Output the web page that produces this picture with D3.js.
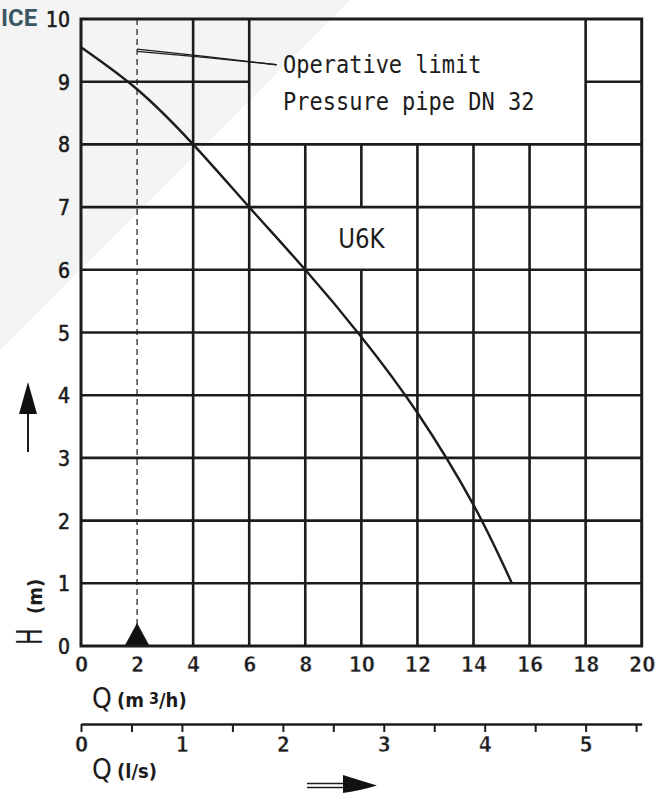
<!DOCTYPE html>
<html>
<head>
<meta charset="utf-8">
<script src="https://cdn.jsdelivr.net/npm/d3@7"></script>
<style>
  html, body { margin: 0; padding: 0; background: #fff; }
  svg { display: block; }
</style>
</head>
<body>
<div id="chart"></div>
<script>
// pump curve U6K, H (m) over Q (m3/h)
const flowQ = [0, 2, 4, 6, 8, 10, 12, 14, 15.37]
const headH = [9.55, 8.88, 8.0, 7.0, 6.0, 4.93, 3.72, 2.25, 1.0]
const qTicks = [0, 2, 4, 6, 8, 10, 12, 14, 16, 18, 20]
const hTicks = [0, 1, 2, 3, 4, 5, 6, 7, 8, 9, 10]
const lsTicks = [0, 0.5, 1, 1.5, 2, 2.5, 3, 3.5, 4, 4.5, 5, 5.5]
const limitQ = 2
const limitLeader = [[2, 9.52], [4.5, 9.4], [6.98, 9.27]]
const noteLines = ['Operative limit', 'Pressure pipe DN 32']
const curveName = 'U6K'

const W = 660, H = 794
const ink = '#1c1c1c'

const svg = d3.select('#chart').append('svg')
  .attr('width', W)
  .attr('height', H)

// background: grey corner with diagonal edge
svg.append('rect').attr('width', W).attr('height', H).attr('fill', '#fff')
svg.append('path').attr('d', 'M0,0 L350,0 L0,350 Z').attr('fill', '#f4f4f4')

svg.append('text')
  .attr('x', 1).attr('y', 26)
  .style('font-family', 'Roboto').style('font-weight', 700).style('font-size', '24px')
  .attr('fill', '#3b5665')
  .text('ICE')

const x = d3.scaleLinear().domain([0, 20]).range([81, 641.7])
const y = d3.scaleLinear().domain([0, 10]).range([646, 19])
const xLs = d3.scaleLinear().domain([0, 20 / 3.6]).range([81, 641.7])

// grid, leaving the two text boxes open
const gaps = [
  { q0: 6, q1: 18, h0: 8, h1: 10 },
  { q0: 8, q1: 12, h0: 6, h1: 7 }
]
function cut(lo, hi, holes) {
  let parts = [[lo, hi]]
  holes.forEach(([a, b]) => {
    const next = []
    parts.forEach(([s, e]) => {
      if (b <= s || a >= e) { next.push([s, e]); return }
      if (a > s) next.push([s, a])
      if (b < e) next.push([b, e])
    })
    parts = next
  })
  return parts
}
const grid = svg.append('g').attr('stroke', ink).attr('stroke-width', 2.6)
qTicks.filter(q => q > 2 && q < 20).forEach(q => {
  const holes = gaps.filter(g => q > g.q0 && q < g.q1).map(g => [g.h0, g.h1])
  cut(0, 10, holes).forEach(([a, b]) => {
    grid.append('line').attr('x1', x(q)).attr('x2', x(q)).attr('y1', y(a)).attr('y2', y(b))
  })
})
hTicks.filter(h => h > 0 && h < 10).forEach(h => {
  const holes = gaps.filter(g => h > g.h0 && h < g.h1).map(g => [g.q0, g.q1])
  cut(0, 20, holes).forEach(([a, b]) => {
    grid.append('line').attr('y1', y(h)).attr('y2', y(h)).attr('x1', x(a)).attr('x2', x(b))
  })
})

// operative limit (dashed)
svg.append('line')
  .attr('x1', x(limitQ)).attr('x2', x(limitQ))
  .attr('y1', y(10)).attr('y2', y(0))
  .attr('stroke', ink).attr('stroke-width', 1.2)
  .attr('stroke-dasharray', '6,4')

const leader = d3.line().x(d => x(d[0])).y(d => y(d[1])).curve(d3.curveNatural)
svg.append('path')
  .attr('d', leader(limitLeader))
  .attr('fill', 'none').attr('stroke', ink).attr('stroke-width', 1.4)
svg.append('path')
  .attr('d', leader(limitLeader.map(d => [d[0], d[1] - 0.035 * (6.98 - d[0]) / 5])))
  .attr('fill', 'none').attr('stroke', ink).attr('stroke-width', 1.2)

svg.append('path')
  .attr('d', `M${x(limitQ)},${y(0) - 23} l-12.5,23 l25,0 Z`)
  .attr('fill', '#111')

// frame
svg.append('rect')
  .attr('x', x(0)).attr('y', y(10))
  .attr('width', x(20) - x(0)).attr('height', y(0) - y(10))
  .attr('fill', 'none').attr('stroke', ink).attr('stroke-width', 3)

// pump curve
const pts = flowQ.map((q, i) => [q, headH[i]])
svg.append('path')
  .attr('d', d3.line().x(d => x(d[0])).y(d => y(d[1])).curve(d3.curveNatural)(pts))
  .attr('fill', 'none').attr('stroke', ink).attr('stroke-width', 2.4)

// notes
const note = svg.append('g')
  .style('font-family', 'DejaVu Sans Mono').style('font-size', '22px')
  .attr('fill', ink)
noteLines.forEach((t, i) => {
  note.append('text')
    .attr('transform', `translate(283,${73 + i * 37}) scale(1,1.15)`)
    .text(t)
})
svg.append('text')
  .attr('transform', `translate(${x(10)},${y(6.5) + 10}) scale(0.85,1)`)
  .attr('text-anchor', 'middle')
  .style('font-family', 'DejaVu Sans').style('font-size', '27px')
  .attr('fill', ink)
  .text(curveName)

// axes
function tickFont(sel, size, weight) {
  sel.selectAll('text')
    .style('font-family', 'DejaVu Sans Condensed')
    .style('font-weight', weight)
    .style('font-size', size + 'px')
    .attr('fill', ink)
}
const yAxis = svg.append('g')
  .attr('transform', `translate(${x(0)},0)`)
  .call(d3.axisLeft(y).tickValues(hTicks).tickSize(0).tickPadding(11))
yAxis.select('.domain').remove()
tickFont(yAxis, 21, 400)
yAxis.selectAll('text').attr('dy', '0.36em')
  .attr('stroke', ink).attr('stroke-width', 0.6)

const xAxis = svg.append('g')
  .attr('transform', `translate(0,${y(0)})`)
  .call(d3.axisBottom(x).tickValues(qTicks).tickSize(0).tickPadding(11))
xAxis.select('.domain').remove()
tickFont(xAxis, 21, 700)
xAxis.selectAll('text').attr('stroke', '#fff').attr('stroke-width', 0.5)

const lsAxis = svg.append('g')
  .attr('transform', 'translate(0,724)')
  .call(d3.axisBottom(xLs).tickValues(lsTicks).tickSizeInner(8).tickSizeOuter(0).tickPadding(5)
    .tickFormat(d => Number.isInteger(d) ? d : ''))
lsAxis.select('.domain').attr('stroke', ink).attr('stroke-width', 2.6)
lsAxis.selectAll('.tick line').attr('stroke', ink).attr('stroke-width', 2)
tickFont(lsAxis, 21, 700)
lsAxis.selectAll('text').attr('stroke', '#fff').attr('stroke-width', 0.5)

// axis titles
function qTitle(yPos, unit, sup) {
  const g = svg.append('g').attr('fill', ink).style('font-family', 'DejaVu Sans Condensed')
  g.append('text').attr('x', 92).attr('y', yPos).style('font-size', '28px').text('Q')
  const t = g.append('text').attr('x', 117).attr('y', yPos - 1)
    .style('font-size', '20px').style('font-weight', 700)
  t.append('tspan').text(unit[0])
  if (sup) {
    t.append('tspan').attr('dy', -3).style('font-size', '16px').text(' ' + sup)
    t.append('tspan').attr('dy', 3).text(unit[1])
  }
}
qTitle(708, ['(m', '/h)'], '3')
qTitle(779, ['(l/s)'])

const hLab = svg.append('g').attr('fill', ink).style('font-family', 'DejaVu Sans Condensed')
hLab.append('text')
  .attr('transform', 'translate(42,645) rotate(-90) scale(0.85,1.25)')
  .style('font-size', '29px').text('H')
hLab.append('text')
  .attr('transform', 'translate(42,614) rotate(-90)')
  .style('font-size', '20px').style('font-weight', 700).text('(m)')

// direction arrows
svg.append('line').attr('x1', 28).attr('x2', 28).attr('y1', 452).attr('y2', 405)
  .attr('stroke', ink).attr('stroke-width', 2)
svg.append('path').attr('d', 'M28,382 L37,414 L19,414 Z').attr('fill', '#111')

svg.append('line').attr('x1', 307).attr('x2', 346).attr('y1', 783.5).attr('y2', 783.5)
  .attr('stroke', ink).attr('stroke-width', 1.6)
svg.append('line').attr('x1', 307).attr('x2', 346).attr('y1', 787.5).attr('y2', 787.5)
  .attr('stroke', ink).attr('stroke-width', 1.6)
svg.append('path').attr('d', 'M343,775 Q362,781 377,785.5 Q362,790 343,793 Z').attr('fill', '#111')
</script>
</body>
</html>
